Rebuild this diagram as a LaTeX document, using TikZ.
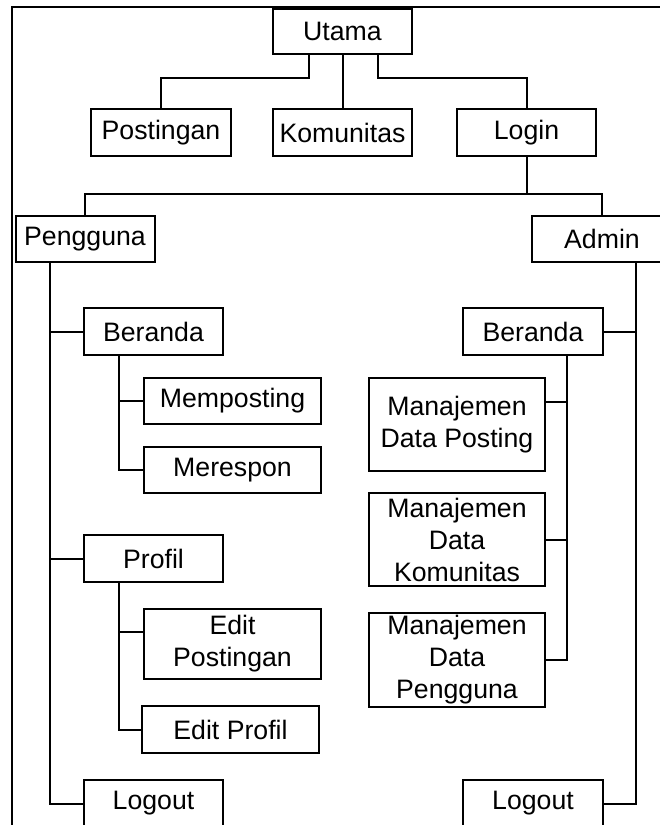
\documentclass[tikz,border=0pt]{standalone}
\usepackage{fontspec}
\setmainfont{Liberation Sans}
\usetikzlibrary{calc}
\begin{document}
\begin{tikzpicture}[x=0.75pt,y=-0.75pt,line width=1.5pt,
  box/.style={draw, inner sep=0pt, align=center,
    font=\fontsize{20}{24}\selectfont},
  wh/.style 2 args={minimum width={#1*0.75pt}, minimum height={#2*0.75pt}},
  link/.style={draw, line width=1.5pt}]
\useasboundingbox (0,0) rectangle (660,825);
\clip (0,0) rectangle (660,825);

% outer frame
\draw (670,6.5) -- (12,6.5) -- (12,840);

% top level
\node[box, wh={139}{45}] (utama) at (342.5,31.5) {Utama};
\node[box, wh={140}{47}] (postingan) at (161,132.5) {Postingan};
\node[box, wh={139}{47}] (komunitas) at (342.5,132.5) {Komunitas};
\node[box, wh={139}{47}] (login) at (526.5,132.5) {Login};

% roles
\node[box, wh={139}{46}] (pengguna) at (85,239) {Pengguna};
\node[box, wh={140}{46}] (admin) at (602,239) {Admin};

% user branch
\node[box, wh={139}{47}] (berandaL) at (153.5,331.5) {Beranda};
\node[box, wh={177}{46}] (memposting) at (232.5,401) {Memposting};
\node[box, wh={177}{46}] (merespon) at (232.5,470) {Merespon};
\node[box, wh={139}{47}] (profil) at (153.5,558.5) {Profil};
\node[box, wh={177}{70}] (editpost) at (232.5,644) {Edit\\Postingan};
\node[box, wh={177}{47}] (editprofil) at (230.5,729.5) {Edit Profil};
\node[box, wh={139}{47}] (logoutL) at (153.5,803.5) {Logout};

% admin branch
\node[box, wh={140}{47}] (berandaR) at (533,331.5) {Beranda};
\node[box, wh={176}{93}] (mdp) at (457,424.5) {Manajemen\\Data Posting};
\node[box, wh={176}{93}] (mdk) at (457,539.5) {Manajemen\\Data\\Komunitas};
\node[box, wh={176}{94}] (mdpg) at (457,660) {Manajemen\\Data\\Pengguna};
\node[box, wh={140}{47}] (logoutR) at (533,803.5) {Logout};

% connectors from Utama
\draw ($(utama.south)+(-33.5,0)$) -- ++(0,23) -| (postingan.north);
\draw (utama.south) -- (komunitas.north);
\draw ($(utama.south)+(35.5,0)$) -- ++(0,23) -| (login.north);

% Login to roles
\draw (login.south) -- ++(0,37) coordinate (split);
\draw (pengguna.north) |- (split) -| (admin.north);

% user trunk
\coordinate (utrunk) at ($(pengguna.south)+(-35,0)$);
\draw (utrunk) |- (logoutL.west);
\draw (berandaL.west) -- (berandaL.west -| utrunk);
\draw (profil.west) -- (profil.west -| utrunk);

% Beranda (user) children
\coordinate (btrunk) at ($(berandaL.south)+(-34.5,0)$);
\draw (btrunk) |- (merespon.west);
\draw (memposting.west) -- (memposting.west -| btrunk);

% Profil children
\coordinate (ptrunk) at ($(profil.south)+(-34.5,0)$);
\draw (ptrunk) |- (editprofil.west);
\draw ($(editpost.west)+(0,-12)$) coordinate (ep) -- (ep -| ptrunk);

% admin trunk
\coordinate (atrunk) at ($(admin.south)+(34,0)$);
\draw (atrunk) |- (logoutR.east);
\draw (berandaR.east) -- (berandaR.east -| atrunk);

% Beranda (admin) children
\coordinate (rtrunk) at ($(berandaR.south)+(34,0)$);
\draw (rtrunk) |- (mdpg.east);
\draw ($(mdp.east)+(0,-22.5)$) coordinate (mp) -- (mp -| rtrunk);
\draw (mdk.east) -- (mdk.east -| rtrunk);
\end{tikzpicture}
\end{document}
